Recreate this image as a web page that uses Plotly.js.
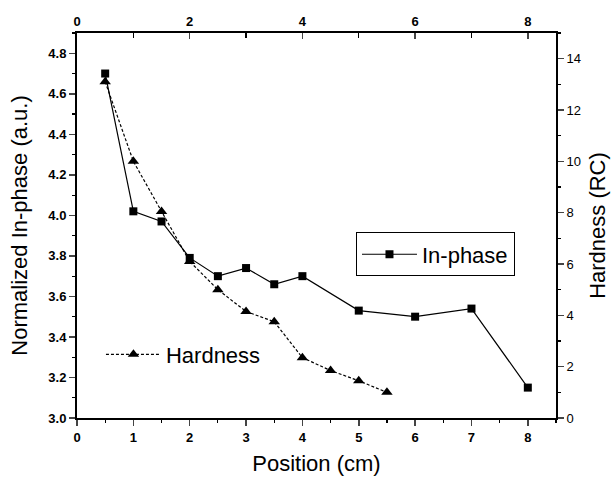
<!DOCTYPE html>
<html><head><meta charset="utf-8">
<script src="https://cdn.plot.ly/plotly-3.0.1.min.js"></script>
<style>body{margin:0;background:#fff}#c{width:611px;height:483px}</style>
</head><body><div id="c"></div>
<script>
const inphaseX = [0.5, 1, 1.5, 2, 2.5, 3, 3.5, 4, 5, 6, 7, 8];
const inphaseY = [4.70, 4.02, 3.97, 3.79, 3.70, 3.74, 3.66, 3.70, 3.53, 3.50, 3.54, 3.15];
const hardnessX = [0.5, 1, 1.5, 2, 2.5, 3, 3.5, 4, 4.5, 5, 5.5];
const hardnessY = [13.1, 10.0, 8.05, 6.1, 5.0, 4.15, 3.75, 2.35, 1.85, 1.45, 1.0];

const tickFont = {family: 'Liberation Sans, Arial', size: 13, color: '#000', weight: 'bold'};
const titleFont = {family: 'Liberation Sans, Arial', size: 22, color: '#000'};

const traces = [
  {x: inphaseX, y: inphaseY, name: 'In-phase', type: 'scatter', mode: 'lines+markers',
   xaxis: 'x', yaxis: 'y', legend: 'legend',
   line: {color: '#000', width: 1.2}, marker: {symbol: 'square', size: 8, color: '#000'}},
  {x: hardnessX, y: hardnessY, name: 'Hardness', type: 'scatter', mode: 'lines+markers',
   xaxis: 'x', yaxis: 'y2', legend: 'legend2',
   line: {color: '#000', width: 1.2, dash: '3px,2px'}, marker: {symbol: 'triangle-up', size: 10, color: '#000'}},
  {x: [0], y: [3.0], xaxis: 'x2', yaxis: 'y', mode: 'markers', marker: {opacity: 0}, showlegend: false, hoverinfo: 'skip'}
];

const layout = {
  width: 611, height: 483,
  margin: {l: 77, r: 55, t: 33, b: 65},
  paper_bgcolor: '#fff', plot_bgcolor: '#fff',
  showlegend: true,
  xaxis: {range: [0, 8.5], dtick: 1, tick0: 0, ticks: 'outside', ticklen: 6, tickwidth: 1.5,
    minor: {dtick: 0.5, ticks: 'outside', ticklen: 3, tickwidth: 1.2, tickcolor: '#000'},
    showline: true, linewidth: 2, linecolor: '#000', showgrid: false, zeroline: false,
    tickfont: tickFont, title: {text: 'Position (cm)', font: titleFont, standoff: 12}},
  xaxis2: {range: [0, 8.5], dtick: 2, tick0: 0, side: 'top', overlaying: 'x', ticks: 'inside', ticklen: 6, tickwidth: 1.5,
    minor: {dtick: 1, ticks: 'inside', ticklen: 5, tickwidth: 1.2, tickcolor: '#000'},
    showline: true, linewidth: 2, linecolor: '#000', showgrid: false, zeroline: false, tickfont: tickFont},
  yaxis: {range: [3.0, 4.9], dtick: 0.2, tick0: 3.0, tickformat: '.1f', ticks: 'outside', ticklen: 6, tickwidth: 1.5,
    minor: {dtick: 0.1, ticks: 'outside', ticklen: 3, tickwidth: 1.2, tickcolor: '#000'},
    showline: true, linewidth: 2, linecolor: '#000', showgrid: false, zeroline: false,
    tickfont: tickFont, title: {text: 'Normalized In-phase (a.u.)', font: titleFont, standoff: 15}},
  yaxis2: {range: [0, 15], dtick: 2, tick0: 0, side: 'right', overlaying: 'y', ticks: 'outside', ticklen: 6, tickwidth: 1.5,
    minor: {dtick: 1, ticks: 'outside', ticklen: 3, tickwidth: 1.2, tickcolor: '#000'},
    showline: true, linewidth: 2, linecolor: '#000', showgrid: false, zeroline: false,
    tickfont: {family: 'Liberation Sans, Arial', size: 13, color: '#000'},
    title: {text: 'Hardness (RC)', font: titleFont, standoff: 10}},
  legend: {x: 0.582, y: 0.4825, xanchor: 'left', yanchor: 'top', bgcolor: '#fff',
    bordercolor: '#000', borderwidth: 1.2, itemwidth: 55, tracegroupgap: 0,
    font: {family: 'Liberation Sans, Arial', size: 22, color: '#000'}},
  legend2: {x: 0.05, y: 0.165, xanchor: 'left', yanchor: 'middle', bgcolor: 'rgba(0,0,0,0)',
    borderwidth: 0, itemwidth: 55,
    font: {family: 'Liberation Sans, Arial', size: 22, color: '#000'}}
};

Plotly.newPlot('c', traces, layout, {staticPlot: true, displayModeBar: false});
</script></body></html>
